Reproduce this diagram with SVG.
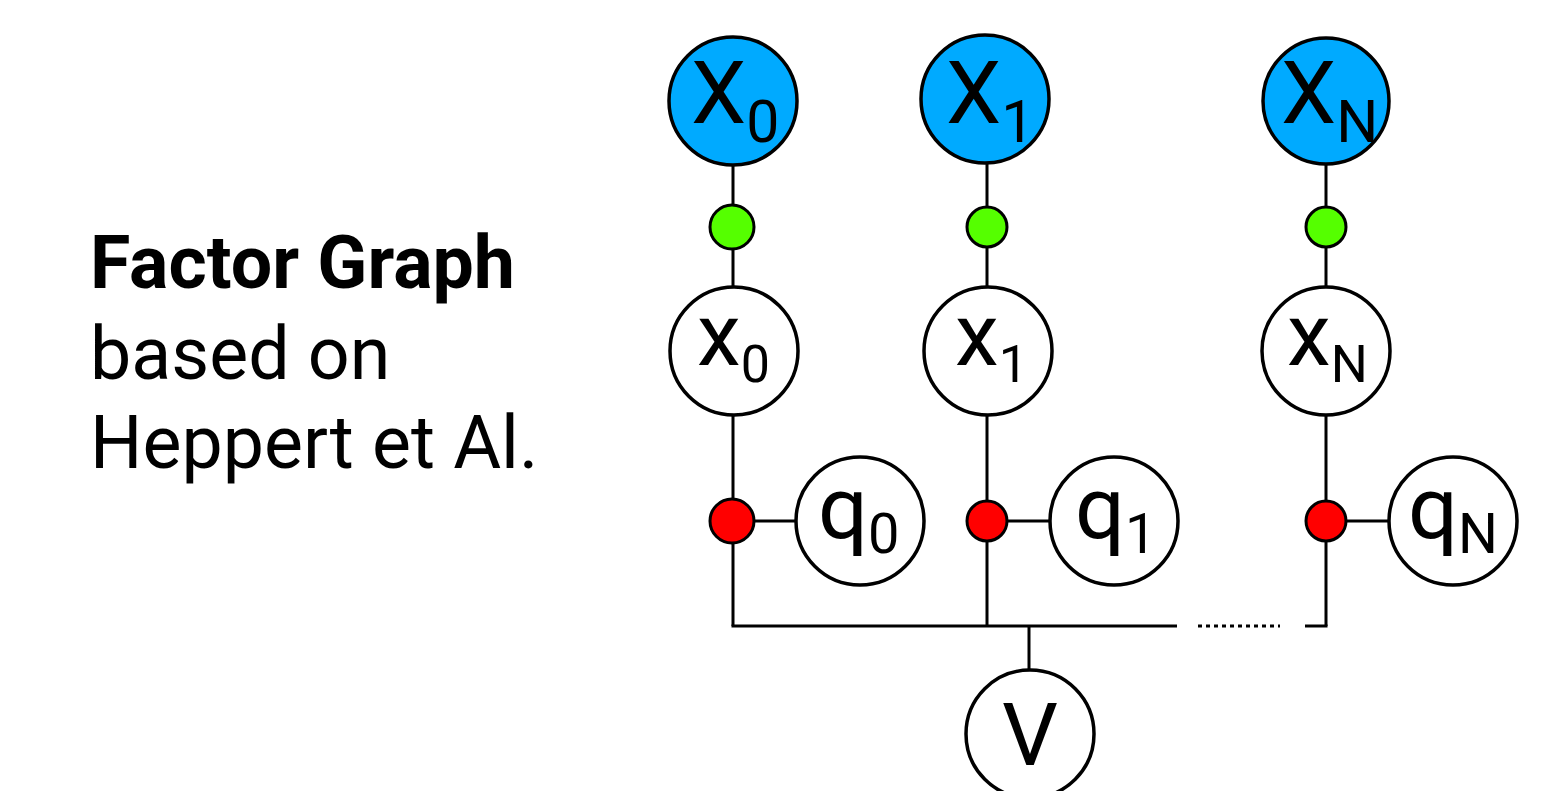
<svg xmlns="http://www.w3.org/2000/svg" width="1564" height="791" viewBox="0 0 1564 791">
<style>
.ln{stroke:#000;stroke-width:3;fill:none}
.obs{fill:#00AAFF;stroke:#000;stroke-width:3.5}
.var{fill:#fff;stroke:#000;stroke-width:3.5}
.gf{fill:#55FF00;stroke:#000;stroke-width:3}
.rf{fill:#FF0000;stroke:#000;stroke-width:3}
.lbl{font-family:Roboto,"Liberation Sans",sans-serif;font-size:88px;fill:#000}
.title{font-family:Roboto,"Liberation Sans",sans-serif;font-size:73.5px;fill:#000}
</style>
<rect width="1564" height="791" fill="#fff"/>
<g id="connectors">
<line class="ln" x1="733" y1="165" x2="733" y2="626"/>
<line class="ln" x1="987" y1="164" x2="987" y2="626"/>
<line class="ln" x1="1326" y1="164" x2="1326" y2="626"/>
<line class="ln" x1="733" y1="521" x2="796" y2="521"/>
<line class="ln" x1="987" y1="521" x2="1050" y2="521"/>
<line class="ln" x1="1326" y1="521" x2="1389" y2="521"/>
<line class="ln" x1="731.5" y1="626" x2="1177" y2="626"/>
<line class="ln" x1="1198" y1="626" x2="1280" y2="626" stroke-dasharray="4 4"/>
<line class="ln" x1="1305" y1="626" x2="1327.5" y2="626"/>
<line class="ln" x1="1029" y1="626" x2="1029" y2="670"/>
</g>
<g id="title">
<text class="title" x="90" y="288" font-weight="bold">Factor Graph</text>
<text class="title" x="90" y="379">based on</text>
<text class="title" x="90" y="468">Heppert et Al.</text>
</g>
<g id="X0"><circle class="obs" cx="733" cy="101" r="64"/><text class="lbl" x="691" y="123">X<tspan font-size="59" dy="19">0</tspan></text></g>
<g id="X1"><circle class="obs" cx="985" cy="99" r="64"/><text class="lbl" x="946" y="123">X<tspan font-size="59" dy="19">1</tspan></text></g>
<g id="XN"><circle class="obs" cx="1326" cy="101" r="63"/><text class="lbl" x="1281" y="123">X<tspan font-size="59" dy="19">N</tspan></text></g>
<g id="f0"><circle class="gf" cx="732" cy="227" r="22"/></g>
<g id="f1"><circle class="gf" cx="987" cy="227" r="20"/></g>
<g id="fN"><circle class="gf" cx="1326" cy="227" r="20"/></g>
<g id="x0"><circle class="var" cx="734" cy="351" r="64"/><text class="lbl" x="697" y="365">x<tspan font-size="52" dy="17">0</tspan></text></g>
<g id="x1"><circle class="var" cx="988" cy="351" r="64"/><text class="lbl" x="955" y="365">x<tspan font-size="52" dy="17">1</tspan></text></g>
<g id="xN"><circle class="var" cx="1326" cy="351" r="64"/><text class="lbl" x="1287" y="365">x<tspan font-size="52" dy="17">N</tspan></text></g>
<g id="r0"><circle class="rf" cx="732" cy="521" r="22"/></g>
<g id="r1"><circle class="rf" cx="987" cy="521" r="20"/></g>
<g id="rN"><circle class="rf" cx="1326" cy="521" r="20"/></g>
<g id="q0"><circle class="var" cx="860" cy="521" r="64"/><text class="lbl" x="818" y="538">q<tspan font-size="56" dy="15">0</tspan></text></g>
<g id="q1"><circle class="var" cx="1114" cy="521" r="64"/><text class="lbl" x="1075" y="538">q<tspan font-size="56" dy="15">1</tspan></text></g>
<g id="qN"><circle class="var" cx="1453" cy="521" r="64"/><text class="lbl" x="1408" y="538">q<tspan font-size="56" dy="15">N</tspan></text></g>
<g id="V"><circle class="var" cx="1030" cy="734" r="64"/><text class="lbl" x="1030" y="765" text-anchor="middle">V</text></g>
</svg>
